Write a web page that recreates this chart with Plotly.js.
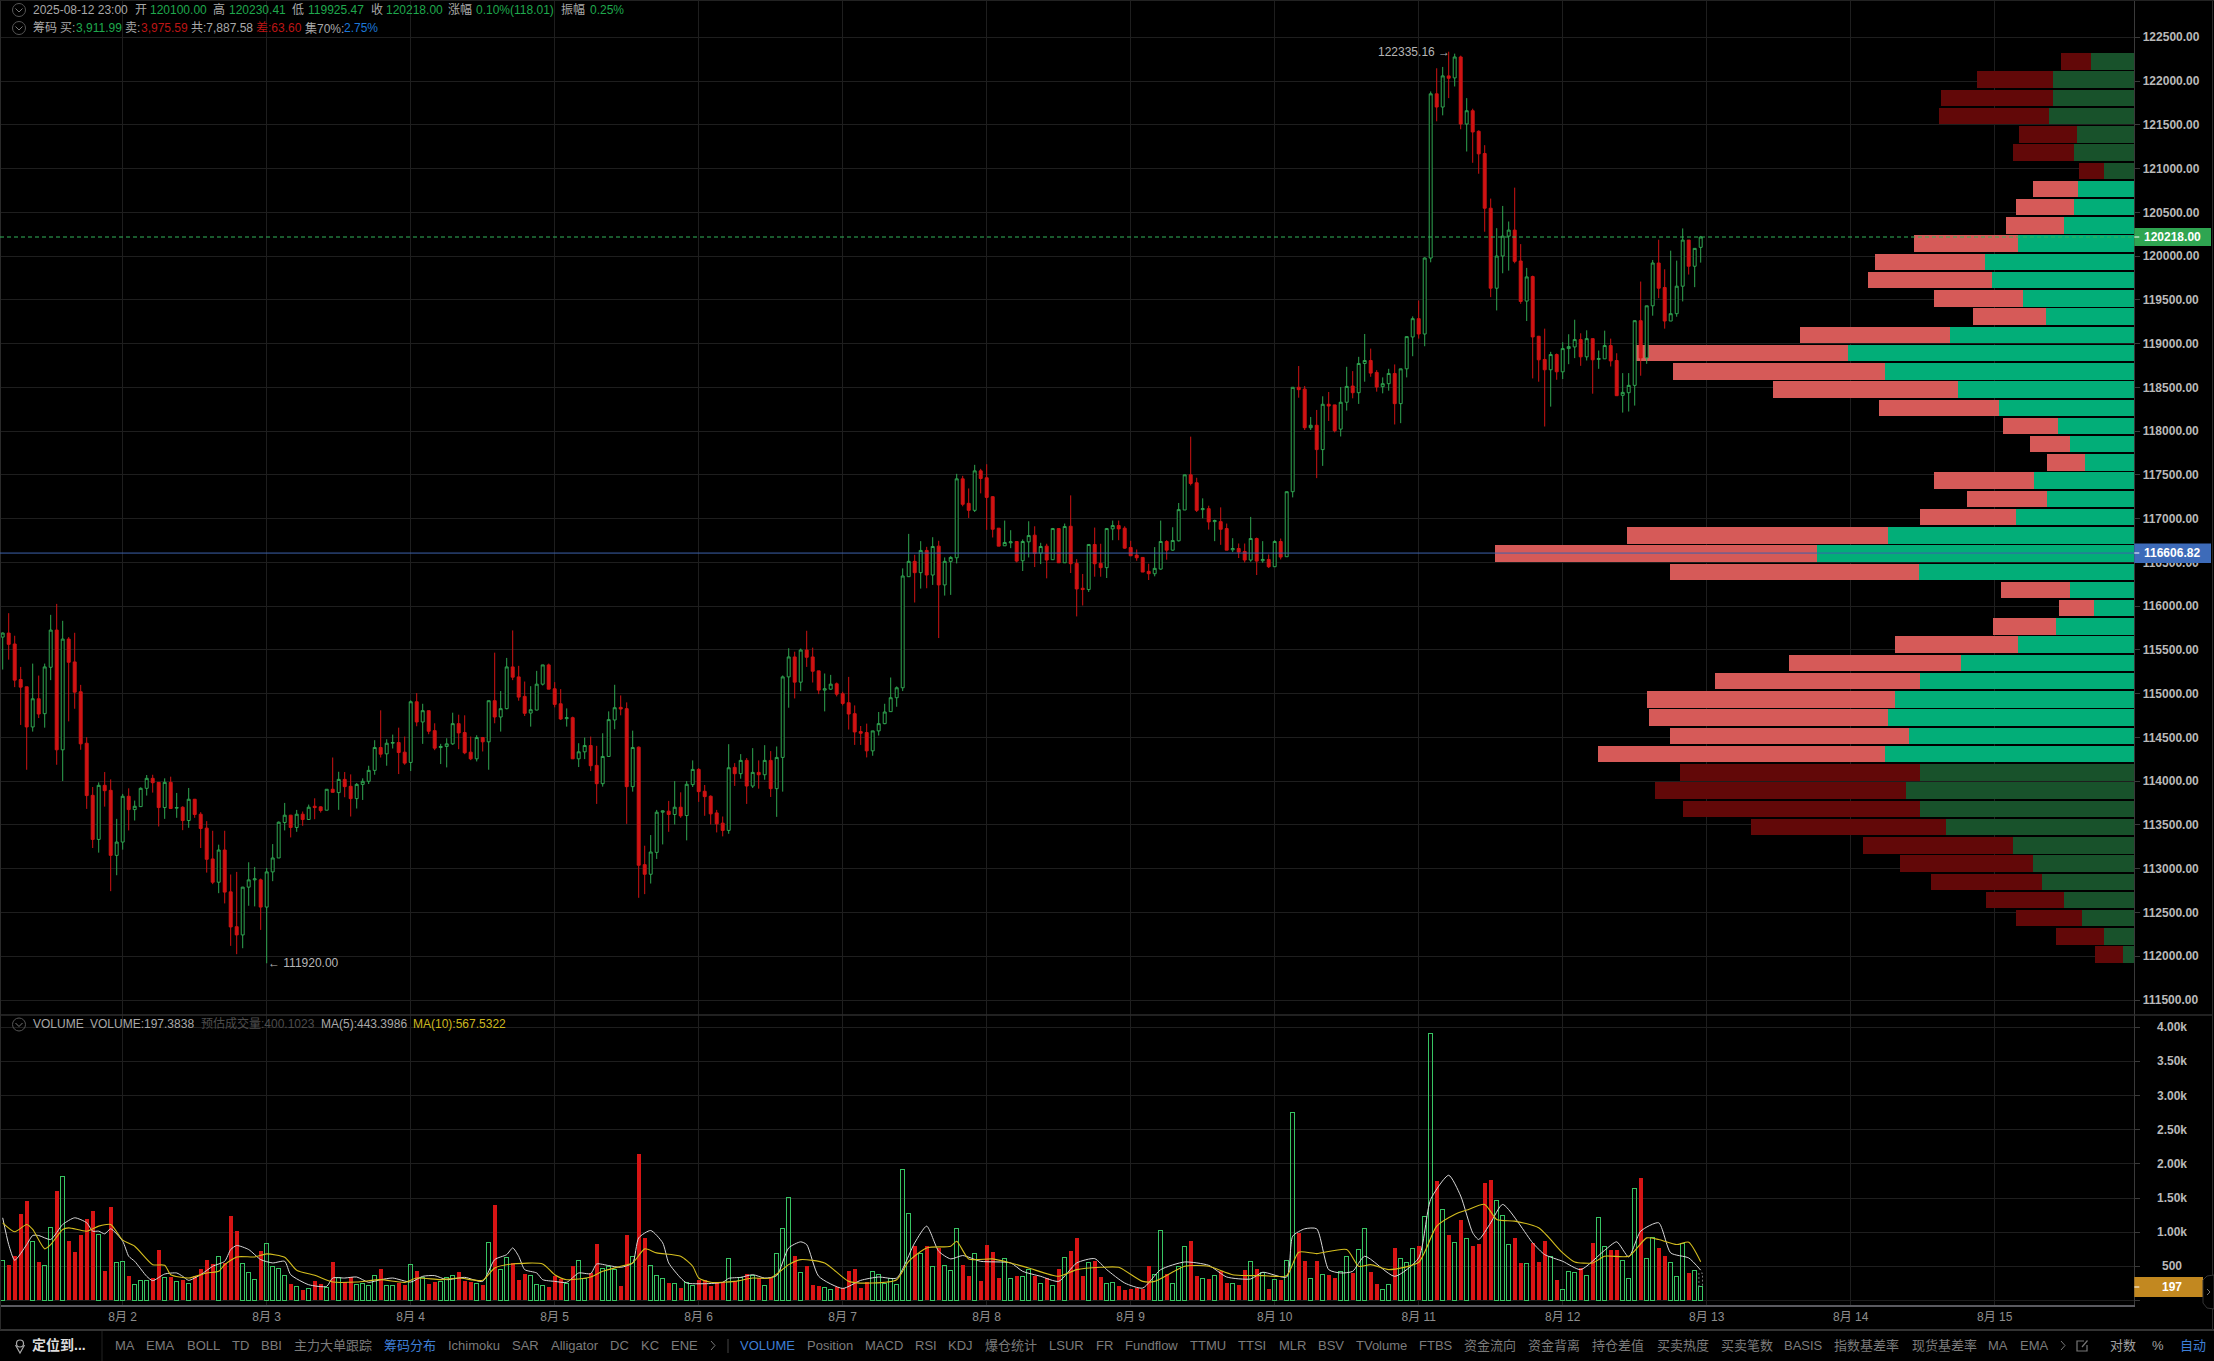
<!DOCTYPE html>
<html><head><meta charset="utf-8">
<script src="https://cdn.plot.ly/plotly-3.0.1.min.js"></script>
<style>html,body{margin:0;padding:0;background:#000;overflow:hidden}#c{width:2214px;height:1361px}</style>
</head><body><div id="c"></div>
<script>
// ---- data: hourly candles from 2025-08-01 04:00 ----
const opens=[115647,115693,115568,115162,115079,114620,114942,114772,115302,115727,114359,115624,115363,115022,114434,113839,113335,113953,113896,113153,113305,113828,113676,113710,113919,114033,113987,113699,113987,113692,113703,113551,113794,113623,113464,113112,112846,113214,112736,112338,112244,112790,112873,112873,112562,112964,113123,113529,113612,113472,113623,113563,113714,113707,113669,113908,113870,114021,113942,113801,113964,113999,114124,114385,114313,114434,114442,114332,114215,114908,114677,114806,114578,114385,114397,114427,114658,114556,114332,114256,114499,114450,114920,114734,114829,115306,115192,114969,114779,114813,115109,115329,115056,114885,114715,114726,114256,114336,114408,114181,113972,114283,114700,114844,114829,113938,114389,113047,112937,113187,113646,113658,113620,113703,113608,113961,114135,113885,113828,113638,113521,113438,114158,114086,114238,113945,114101,114074,114238,113915,114272,115192,115420,115132,115499,115420,115261,115041,115052,115113,114999,114897,114772,114567,114556,114347,114575,114658,114795,114954,115068,116337,116512,116383,116637,116356,116686,116243,116512,116553,117455,117175,117095,117546,117467,117251,116891,116690,116724,116739,116519,116735,116811,116606,116686,116531,116887,116496,116913,116489,116205,116190,116705,116489,116440,116883,116921,116891,116671,116584,116557,116398,116371,116424,116739,116640,116747,117099,117501,117410,117103,117114,116966,116966,116887,116644,116659,116625,116527,116773,116519,116534,116451,116739,116565,117308,118501,118480,118039,118067,117789,118307,118300,118023,118330,118515,118439,118773,118807,118671,118508,118542,118659,118314,118712,119076,119285,119110,119978,121854,121703,122059,122036,122275,121509,121661,121426,121172,120547,119633,120001,120228,120297,119944,119486,119766,119084,118819,118701,118875,118678,118943,118962,119046,118849,119057,118819,118826,118978,118807,118409,118439,118523,119262,118837,119432,119921,119641,119258,119342,119656,120183,119884,120100];
const highs=[115700,115920,115662,115306,115079,115344,115207,115344,115901,116026,115833,115647,115696,115101,114503,113934,113987,114105,114021,113570,113855,113919,113779,113930,114071,114074,113987,114033,114052,113866,113714,113923,113798,113646,113544,113434,113275,113434,112934,112964,112793,113074,113021,112888,113009,113282,113540,113752,113616,113672,113654,113733,113805,113714,113908,114271,114108,114105,114078,113980,114033,114177,114469,114810,114480,114533,114612,114510,114923,115007,114885,114806,114662,114427,114491,114783,114760,114753,114510,114525,114506,114920,115469,115030,115409,115723,115318,115139,115086,115261,115329,115344,115132,115052,114832,114738,114434,114499,114510,114404,114548,114798,115102,114980,114901,114578,114397,113263,113385,113672,113665,113775,114002,113873,114002,114238,114150,113957,113839,113672,113597,114423,114207,114310,114264,114378,114238,114412,114344,114397,115208,115519,115480,115515,115719,115526,115261,115231,115215,115128,115022,115192,114866,114631,114658,114575,114791,114885,115185,115083,116432,116826,116587,116743,116678,116788,116747,116557,116572,117512,117489,117345,117615,117569,117622,117258,116891,116978,116868,116739,116762,116970,116913,116724,116713,116894,116887,116944,117266,116538,116368,116705,116898,116713,116894,116978,116978,116913,116747,116648,116557,116485,116675,116978,116754,116902,117179,117501,117937,117467,117232,117148,116989,117129,116944,116777,116716,116716,117020,116784,116743,116591,116754,116773,117308,118501,118744,118516,118162,118242,118398,118447,118300,118504,118735,118686,118849,119110,118943,118697,118614,118712,118762,118712,119080,119311,119493,119986,121881,122146,122161,122335.16,122313,122290,121805,121684,121437,121267,120657,120319,120573,120395,120782,120137,119865,119777,119088,119171,118906,118887,119016,119107,119273,119118,119152,119057,118921,119148,119057,118890,118663,118663,119262,119709,119432,119955,120187,119849,120062,119948,120316,120183,120088,120230.41];
const lows=[115276,115389,115075,114643,114131,114567,114722,114612,115155,114188,114002,114684,114828,114359,113684,113237,113184,113710,112744,112926,113218,113438,113551,113707,113836,113870,113483,113570,113688,113582,113441,113468,113582,113237,112956,112824,112721,112604,112119,112024,112092,112577,112570,112301,111920,112858,113123,113438,113358,113422,113491,113563,113566,113642,113669,113873,113673,113817,113597,113688,113786,113968,114074,114271,114177,114374,114082,114188,114116,114628,114427,114537,114355,114196,114158,114415,114366,114309,114241,114226,114340,114131,114662,114567,114821,115155,114920,114745,114624,114810,115094,115052,114844,114700,114624,114256,114162,114253,114116,113741,113938,114279,114594,114753,113513,113881,112668,112710,112831,113112,113278,113422,113506,113582,113324,113934,113764,113605,113506,113415,113370,113400,113946,114029,113741,113923,113915,114017,113820,113593,113881,114840,114946,115029,115306,115128,114995,114798,115045,114969,114866,114590,114415,114415,114272,114291,114522,114651,114791,114851,115030,116337,116042,116201,116205,116243,115636,116121,116129,116489,117141,117008,117076,117289,116872,116785,116686,116690,116663,116500,116402,116557,116447,116481,116318,116527,116496,116496,116379,115883,116008,116163,116337,116337,116322,116754,116754,116656,116572,116519,116390,116299,116341,116417,116531,116633,116740,117099,117380,117076,117004,116875,116743,116701,116640,116618,116550,116500,116508,116356,116496,116436,116447,116534,116565,117243,118382,118013,118013,117463,117603,118116,117986,117939,118235,118375,118311,118565,118621,118451,118432,118462,118076,118091,118614,118856,119057,118970,119929,121540,121608,121805,121938,121449,121195,121066,120941,120278,119531,119379,119804,119834,119918,119455,119258,118602,118565,118053,118280,118587,118595,118765,118834,118746,118807,118428,118712,118826,118739,118405,118212,118224,118292,118633,118769,119319,119520,119171,119258,119307,119482,119789,119645,119925.47];
const closes=[115693,115564,115155,115075,114620,114942,114768,115306,115727,114359,115624,115359,115018,114427,113836,113335,113953,113892,113153,113305,113828,113676,113714,113919,114033,113983,113699,113987,113688,113699,113551,113794,113620,113460,113108,112846,113214,112733,112335,112244,112790,112873,112884,112562,112964,113123,113532,113612,113472,113623,113563,113703,113699,113665,113908,113873,114021,113938,113801,113964,113999,114124,114385,114309,114434,114442,114328,114207,114908,114677,114806,114571,114378,114397,114427,114658,114552,114325,114256,114499,114450,114920,114734,114829,115306,115189,114961,114776,114817,115109,115329,115052,114878,114711,114726,114256,114336,114408,114177,113972,114283,114704,114840,114825,113938,114385,113040,112937,113191,113646,113661,113620,113703,113604,113965,114135,113881,113824,113627,113513,113438,114154,114086,114238,113945,114101,114074,114238,113915,114272,115192,115420,115132,115499,115416,115257,115041,115056,115109,114995,114889,114768,114563,114548,114347,114575,114658,114791,114954,115068,116345,116512,116383,116637,116356,116682,116243,116512,116557,117455,117164,117095,117546,117459,117243,116879,116686,116728,116735,116515,116739,116807,116603,116682,116527,116887,116496,116910,116485,116197,116190,116705,116485,116440,116887,116921,116883,116663,116576,116553,116390,116371,116432,116739,116640,116750,117103,117501,117402,117095,117114,116963,116978,116879,116640,116659,116618,116527,116773,116515,116534,116451,116739,116561,117308,118501,118474,118039,118067,117789,118307,118287,118005,118330,118511,118439,118773,118807,118663,118504,118542,118659,118314,118712,119080,119285,119110,119978,121854,121703,122059,122032,122275,121509,121661,121418,121168,120547,119633,120001,120228,120297,119940,119482,119762,119076,118815,118701,118875,118678,118943,118966,119046,118849,119057,118815,118830,118978,118803,118405,118443,118523,119262,118837,119432,119921,119633,119258,119342,119656,120183,119884,120088,120218];
const volumes=[578,524,647,1259,1450,862,568,510,1063,1597,1813,877,715,965,1186,1303,960,436,1372,549,563,363,240,289,289,328,745,343,343,270,304,245,363,466,598,539,637,549,1230,1024,534,402,304,730,828,490,461,363,245,211,157,181,289,240,186,568,343,265,338,230,245,216,372,466,216,225,255,230,519,436,343,245,274,270,343,363,421,284,274,245,230,843,1392,451,622,549,304,392,372,240,225,201,363,314,245,510,578,314,402,833,461,500,451,216,951,637,2141,907,505,363,314,260,255,186,265,216,304,304,216,265,265,608,279,343,392,372,333,225,323,681,1049,1504,657,402,500,230,216,196,167,191,176,426,466,186,265,417,387,245,314,230,1916,1269,804,681,804,500,769,510,436,1049,524,353,681,289,818,711,333,608,328,363,353,451,353,245,328,216,461,622,730,921,353,549,583,338,255,265,216,147,167,181,167,500,387,1019,392,255,500,789,877,353,314,314,363,426,255,255,230,451,563,461,412,172,304,294,583,2754,990,583,328,583,387,372,333,426,647,402,740,1049,412,245,157,230,774,608,559,755,804,1225,3905,1744,1328,965,843,1171,902,804,828,1715,1759,1465,1245,813,921,554,539,848,568,867,637,304,157,421,402,475,372,848,1210,794,735,745,583,328,1637,1789,608,916,774,657,549,353,828,402,431,197.38];
const ma5Hours=[0,1,2,4,5,6,8,10,12,14,15,16,17,18,20,21,22,24,25,27,29,30,31,33,35,37,38,39,41,43,45,47,48,51,54,55,57,59,61,63,65,68,70,72,74,77,80,82,84,85,86,87,89,90,92,94,96,98,99,101,103,105,106,108,110,111,113,114,117,120,121,123,125,127,129,131,133,134,136,140,143,146,149,152,154,156,158,160,163,168,170,173,176,179,182,184,187,190,193,197,201,204,208,210,214,215,217,219,221,223,225,227,232,236,238,241,243,245,246,248,250,255,257,260,263,267,269,271,273,276,278,281,283];
const ma5Values=[1210,818,588,818,951,951,892,1112,1210,1137,1014,1014,975,1049,867,647,573,353,289,387,402,353,294,377,500,573,745,804,745,598,549,573,377,230,206,328,328,343,265,304,328,269,353,363,304,338,279,598,671,769,647,451,402,304,279,265,402,392,534,510,485,549,916,1024,843,549,328,255,245,265,323,338,377,328,363,769,858,818,353,176,294,343,328,843,1088,720,608,657,573,549,426,353,279,549,612,451,255,181,451,563,514,343,314,412,343,941,1049,1049,451,402,426,647,353,622,1480,1833,1529,990,892,1137,1406,843,671,573,451,735,858,637,1014,1137,696,622,443.4];
const ma10Hours=[0,2,4,5,7,8,10,11,14,16,18,20,22,25,27,28,31,34,36,37,39,42,44,47,49,52,55,59,63,67,69,73,76,80,82,85,90,92,94,98,100,103,105,107,109,113,115,116,118,122,125,128,131,133,137,141,145,149,151,154,158,159,161,165,168,171,176,179,183,186,190,192,197,201,205,210,214,216,219,224,226,228,231,236,239,242,244,247,249,252,256,260,262,265,267,271,274,276,279,281,283];
const ma10Values=[1137,1005,1112,1039,755,818,1039,1063,1014,1088,1112,882,794,524,515,377,328,402,426,524,637,637,681,632,441,368,270,270,304,265,328,304,328,294,475,534,534,377,304,343,426,500,549,755,696,647,500,328,265,279,328,328,524,598,549,279,255,304,573,769,794,867,608,608,549,475,353,451,485,485,279,279,500,500,377,363,363,706,686,745,500,524,451,559,1088,1259,1323,1406,1186,1161,1063,696,563,549,647,647,916,892,818,853,567.53];
const chipPrices=[122225,122016,121808,121600,121391,121183,120975,120767,120559,120350,120142,119934,119726,119517,119309,119101,118892,118684,118476,118267,118059,117851,117643,117435,117226,117018,116810,116602,116393,116185,115977,115768,115560,115352,115143,114935,114727,114518,114310,114101,113893,113685,113476,113268,113060,112851,112643,112435,112226,112018];
const chipBuy=[43,81,81,85,57,60,30,56,60,70,116,149,142,111,88,184,286,249,176,135,76,64,49,100,87,118,246,317,215,64,40,78,116,173,214,239,246,225,249,214,228,214,188,121,101,92,70,52,30,11];
const chipSell=[30,76,112,110,58,61,25,45,58,58,104,110,124,89,73,150,215,212,185,120,55,40,38,100,80,96,261,322,249,69,35,63,123,172,205,248,239,239,287,240,251,237,195,150,133,111,78,66,48,28];
const chipInRange=[0,0,0,0,0,0,0,1,1,1,1,1,1,1,1,1,1,1,1,1,1,1,1,1,1,1,1,1,1,1,1,1,1,1,1,1,1,1,1,0,0,0,0,0,0,0,0,0,0,0];
const priceTicks=[111500,112000,112500,113000,113500,114000,114500,115000,115500,116000,116500,117000,117500,118000,118500,119000,119500,120000,120500,121000,121500,122000,122500];
const volumeTicks=[0,500,1000,1500,2000,2500,3000,3500,4000];
const volumeTickText=['','500','1.00k','1.50k','2.00k','2.50k','3.00k','3.50k','4.00k'];
const dayTicks=['2025-08-02','2025-08-03','2025-08-04','2025-08-05','2025-08-06','2025-08-07','2025-08-08','2025-08-09','2025-08-10','2025-08-11','2025-08-12','2025-08-13','2025-08-14','2025-08-15'];
const dayLabels=['8月 2','8月 3','8月 4','8月 5','8月 6','8月 7','8月 8','8月 9','8月 10','8月 11','8月 12','8月 13','8月 14','8月 15'];
const lastPrice=120218, pocPrice=116606.82, lastVolume=197.38, estVolume=400.10, maxHigh=122335.16, minLow=111920;
const toolbarLabels=['MA','EMA','BOLL','TD','BBI','主力大单跟踪','筹码分布','Ichimoku','SAR','Alligator','DC','KC','ENE','VOLUME','Position','MACD','RSI','KDJ','爆仓统计','LSUR','FR','Fundflow','TTMU','TTSI','MLR','BSV','TVolume','FTBS','资金流向','资金背离','持仓差值','买卖热度','买卖笔数','BASIS','指数基差率','现货基差率','MA','EMA'];
const toolbarX=[124.5,160,203,240,271,333,410,474,525,574.5,619,649.5,684,767,829.5,883.5,925.6,960.7,1010.5,1066,1104,1151.6,1207.7,1252,1292,1330.5,1381,1436,1490,1554,1618,1683,1746.7,1803.5,1866.7,1944,1998,2034];

// ---- styling / layout ----
const W=2214,H=1361,RIGHT=2134.3,SPLIT=1015,VOLB=1305;
const GREEN='#2fa551',RED='#cf1313',GRID='#1e1e1e',AXIS='#3a3a3a';
const FONT='"Liberation Sans","Noto Sans CJK SC",sans-serif';
const px=x=>x/W, py=y=>1-y/H;
const hour=i=>new Date(Date.UTC(2025,7,1,4)+i*3600000).toISOString().slice(0,16).replace('T',' ');
const times=opens.map((_,i)=>hour(i));
const xRange=[hour(-0.45),hour(355.27)];
const idxUp=[],idxDn=[];
opens.forEach((o,i)=>(closes[i]>=o?idxUp:idxDn).push(i));

const traces=[
 {type:'bar',orientation:'h',name:'buy',xaxis:'x3',yaxis:'y',y:chipPrices,x:chipBuy,width:188,
  marker:{color:chipInRange.map(a=>a?'#02ae78':'#18522b'),line:{width:0}},hoverinfo:'skip'},
 {type:'bar',orientation:'h',name:'sell',xaxis:'x3',yaxis:'y',y:chipPrices,x:chipSell,width:188,
  marker:{color:chipInRange.map(a=>a?'#d65a58':'#620808'),line:{width:0}},hoverinfo:'skip'},
 {type:'candlestick',xaxis:'x2',yaxis:'y',x:times,open:opens,high:highs,low:lows,close:closes,
  increasing:{line:{color:GREEN,width:1},fillcolor:'#000'},
  decreasing:{line:{color:RED,width:1},fillcolor:RED},whiskerwidth:0,hoverinfo:'skip'},
 {type:'bar',xaxis:'x',yaxis:'y2',x:idxUp.map(i=>times[i]),y:idxUp.map(i=>volumes[i]),width:2160000,
  marker:{color:'rgba(0,0,0,0)',line:{color:'#37c462',width:1}},hoverinfo:'skip'},
 {type:'bar',xaxis:'x',yaxis:'y2',x:idxDn.map(i=>times[i]),y:idxDn.map(i=>volumes[i]),width:2520000,
  marker:{color:'#d81414',line:{width:0}},hoverinfo:'skip'},
 {type:'scatter',mode:'lines',xaxis:'x',yaxis:'y2',x:[hour(283-0.3),hour(283-0.3),hour(283+0.3),hour(283+0.3)],y:[lastVolume,estVolume,estVolume,lastVolume],
  line:{color:'#777',width:1,dash:'2px 2px'},hoverinfo:'skip'},
 {type:'scatter',mode:'lines',xaxis:'x',yaxis:'y2',x:ma5Hours.map(hour),y:ma5Values,line:{color:'#d8d8d8',width:1,shape:'spline',smoothing:0.6},hoverinfo:'skip'},
 {type:'scatter',mode:'lines',xaxis:'x',yaxis:'y2',x:ma10Hours.map(hour),y:ma10Values,line:{color:'#d4bd1e',width:1.1,shape:'spline',smoothing:0.6},hoverinfo:'skip'}
];

const ann=[];
function label(text,x,y,color,opt){ann.push(Object.assign({xref:'paper',yref:'paper',x:px(x),y:py(y),text:text,showarrow:false,xanchor:'left',yanchor:'middle',
  font:{family:FONT,size:12,color:color},borderpad:0},opt||{}));}
const G='#1fa84d',R='#bd1616',T='#a8a8a8';
[['2025-08-12 23:00',31.5,T],['开',133.5,T],['120100.00',148.5,G],['高',212,T],['120230.41',227.5,G],['低',290.5,T],['119925.47',306.5,G],['收',369.5,T],['120218.00',385,G],['涨幅',447,T],['0.10%(118.01)',475,G],['振幅',560,T],['0.25%',588.5,G]]
 .forEach(a=>label(a[0],a[1],9.5,a[2]));
[['筹码',31.5,T],['买:',59,T],['3,911.99',74.5,G],['卖:',124,T],['3,975.59',139.5,R],['共:7,887.58',189.5,T],['差:63.60',255,R],['集70%:',304,T],['2.75%',343,'#1d78d8']]
 .forEach(a=>label(a[0],a[1],28,a[2]));
[['VOLUME',31.5,T],['VOLUME:197.3838',88.5,T],['预估成交量:400.1023',199.5,'#4d4d4d'],['MA(5):443.3986',320,T],['MA(10):567.5322',412,'#cdb81f']]
 .forEach(a=>label(a[0],a[1],1023.5,a[2]));
const TBY=1345;
toolbarLabels.forEach((t,i)=>{const blue=t==='筹码分布'||t==='VOLUME';
  label(t,toolbarX[i],TBY,blue?'#3f7fd6':'#7b7b7b',{xanchor:'center',font:{family:FONT,size:13,color:blue?'#3f7fd6':'#7b7b7b'}});});
label('定位到...',59,TBY,'#dcdcdc',{xanchor:'center',font:{family:FONT,size:14,color:'#dcdcdc',weight:700}});
label('对数',2123,TBY,'#a0a0a0',{xanchor:'center',font:{family:FONT,size:13,color:'#a0a0a0'}});
label('%',2158,TBY,'#a0a0a0',{xanchor:'center',font:{family:FONT,size:13,color:'#a0a0a0'}});
label('自动',2193,TBY,'#3f7fd6',{xanchor:'center',font:{family:FONT,size:13,color:'#3f7fd6'}});
ann.push({xref:'x2',yref:'y',x:hour(241),y:maxHigh,text:maxHigh.toFixed(2)+' →',showarrow:false,xanchor:'right',yanchor:'middle',xshift:3,font:{family:FONT,size:12,color:'#b5b5b5'}});
ann.push({xref:'x2',yref:'y',x:hour(44),y:minLow,text:'← '+minLow.toFixed(2),showarrow:false,xanchor:'left',yanchor:'middle',xshift:-1,font:{family:FONT,size:12,color:'#b5b5b5'}});
// right-hand volume axis labels (centred in the gutter) and value tags
volumeTicks.forEach((v,i)=>{if(volumeTickText[i])ann.push({xref:'paper',yref:'y2',x:px(2172),y:v,text:volumeTickText[i],showarrow:false,xanchor:'center',yanchor:'middle',font:{family:FONT,size:12,color:'#b9b9b9',weight:700}});});
const tagText=(t,yref,y)=>ann.push({xref:'paper',yref:yref,x:px(2172),y:y,text:t,showarrow:false,xanchor:'center',yanchor:'middle',font:{family:FONT,size:12,color:'#fff',weight:700}});
tagText(lastPrice.toFixed(2),'y',lastPrice);
tagText(pocPrice.toFixed(2),'y',pocPrice);
tagText(String(Math.floor(lastVolume)),'y2',lastVolume);

const pline=(x0,y0,x1,y1,c,w)=>({type:'line',xref:'paper',yref:'paper',x0:px(x0),x1:px(x1),y0:py(y0),y1:py(y1),line:{color:c,width:w||1},layer:'above'});
const shapes=[
 pline(0,SPLIT,RIGHT,SPLIT,'#2c2c2c',1.5),
 pline(RIGHT,SPLIT,W-2,SPLIT,'#2c2c2c',1.5),
 pline(0,1330,W,1330,'#333',2),
 pline(102,1331,102,1361,'#222',1),
 pline(0.5,0,0.5,1330,'#2a2a2a',1),
 pline(W-1.5,0,W-1.5,1330,'#2a2a2a',1),
 pline(0,0.5,W,0.5,'#222',1),
 pline(728,1339,728,1353,'#444',1),
 {type:'line',xref:'paper',yref:'y',x0:0,x1:px(RIGHT),y0:lastPrice,y1:lastPrice,line:{color:'#33b35a',width:1,dash:'4px 3px'},layer:'above'},
 {type:'line',xref:'paper',yref:'y',x0:0,x1:px(RIGHT),y0:pocPrice,y1:pocPrice,line:{color:'#3d62ad',width:1},layer:'above'},
 {type:'rect',xref:'paper',yref:'paper',x0:px(RIGHT),x1:px(2211),y0:py(228),y1:py(246),fillcolor:'#2fa551',line:{width:0},layer:'above'},
 {type:'rect',xref:'paper',yref:'paper',x0:px(RIGHT),x1:px(2211),y0:py(543.5),y1:py(563),fillcolor:'#3d6bb9',line:{width:0},layer:'above'},
 {type:'rect',xref:'paper',yref:'paper',x0:px(RIGHT),x1:px(2203),y0:py(1277),y1:py(1297),fillcolor:'#c28820',line:{width:0},layer:'above'},
 pline(RIGHT,237,RIGHT+5,237,'#fff',1), pline(RIGHT,553,RIGHT+5,553,'#fff',1), pline(RIGHT,1287,RIGHT+5,1287,'#fff',1),
 {type:'path',xref:'paper',yref:'paper',path:`M ${px(2214)} ${py(1275)} L ${px(2207)} ${py(1276)} L ${px(2203)} ${py(1280)} L ${px(2203)} ${py(1303)} L ${px(2207)} ${py(1308)} L ${px(2214)} ${py(1309)} Z`,fillcolor:'#000',line:{color:'#333',width:1},layer:'above'},
 {type:'path',xref:'paper',yref:'paper',path:`M ${px(2207)} ${py(1289)} L ${px(2210)} ${py(1292)} L ${px(2207)} ${py(1295)}`,line:{color:'#777',width:1},layer:'above'},
 // chevron badges
 ...[[19,10],[19,28],[19,1024.5]].flatMap(c=>[
  {type:'circle',xref:'paper',yref:'paper',x0:px(c[0]-6.5),x1:px(c[0]+6.5),y0:py(c[1]-6.5),y1:py(c[1]+6.5),line:{color:'#555',width:1},layer:'above'},
  {type:'path',xref:'paper',yref:'paper',path:`M ${px(c[0]-3.5)} ${py(c[1]-1.5)} L ${px(c[0])} ${py(c[1]+2)} L ${px(c[0]+3.5)} ${py(c[1]-1.5)}`,line:{color:'#777',width:1},layer:'above'}]),
 // toolbar icons
 {type:'circle',xref:'paper',yref:'paper',x0:px(16.5),x1:px(23.5),y0:py(1340),y1:py(1347),line:{color:'#aaa',width:1.2},layer:'above'},
 {type:'path',xref:'paper',yref:'paper',path:`M ${px(15.5)} ${py(1345)} L ${px(20)} ${py(1353)} L ${px(24.5)} ${py(1345)}`,line:{color:'#aaa',width:1.2},layer:'above'},
 ...[713,2063].map(x=>({type:'path',xref:'paper',yref:'paper',path:`M ${px(x-2)} ${py(1341)} L ${px(x+2)} ${py(1345.5)} L ${px(x-2)} ${py(1350)}`,line:{color:'#777',width:1},layer:'above'})),
 {type:'path',xref:'paper',yref:'paper',path:`M ${px(2084)} ${py(1341)} L ${px(2077)} ${py(1341)} L ${px(2077)} ${py(1351)} L ${px(2087)} ${py(1351)} L ${px(2087)} ${py(1345)} M ${px(2082)} ${py(1347)} L ${px(2087.5)} ${py(1340.5)}`,line:{color:'#777',width:1.2},layer:'above'}
];

const xd=[0,px(RIGHT)];
const layout={
 width:W,height:H,margin:{l:0,r:0,t:0,b:0,pad:0},paper_bgcolor:'#000',plot_bgcolor:'rgba(0,0,0,0)',
 showlegend:false,barmode:'stack',dragmode:false,hovermode:false,
 font:{family:FONT,color:'#aaa'},
 xaxis:{type:'date',domain:xd,anchor:'y2',range:xRange,tickmode:'array',tickvals:dayTicks,ticktext:dayLabels,
  tickfont:{family:FONT,size:12,color:'#8e8e8e'},ticks:'',ticklabelstandoff:0,gridcolor:GRID,gridwidth:1,showgrid:true,zeroline:false,
  showline:true,linecolor:'#5a5a60',linewidth:1.5,rangeslider:{visible:false}},
 xaxis2:{type:'date',domain:xd,anchor:'y',overlaying:'x3',range:xRange,tickmode:'array',tickvals:dayTicks,showticklabels:false,ticks:'',
  gridcolor:GRID,gridwidth:1,showgrid:true,zeroline:false,rangeslider:{visible:false}},
 xaxis3:{domain:xd,anchor:'y',range:[RIGHT,0],visible:false,showgrid:false,zeroline:false},
 yaxis:{domain:[py(SPLIT),1],anchor:'x3',side:'right',range:[111329,122926],tickmode:'array',tickvals:priceTicks,ticktext:priceTicks.map(v=>v.toFixed(2)),
  tickfont:{family:FONT,size:12,color:'#b9b9b9',weight:700},ticks:'outside',ticklen:5,tickcolor:AXIS,gridcolor:GRID,gridwidth:1,zeroline:false,showline:true,linecolor:AXIS,linewidth:1},
 yaxis2:{domain:[py(VOLB),py(SPLIT)],anchor:'x',side:'right',range:[-67,4180],tickmode:'array',tickvals:volumeTicks,showticklabels:false,
  ticks:'outside',ticklen:5,tickcolor:AXIS,gridcolor:GRID,gridwidth:1,zeroline:false,showline:true,linecolor:AXIS,linewidth:1},
 annotations:ann,shapes:shapes
};
Plotly.newPlot('c',traces,layout,{staticPlot:true,displayModeBar:false,responsive:false});
</script></body></html>
